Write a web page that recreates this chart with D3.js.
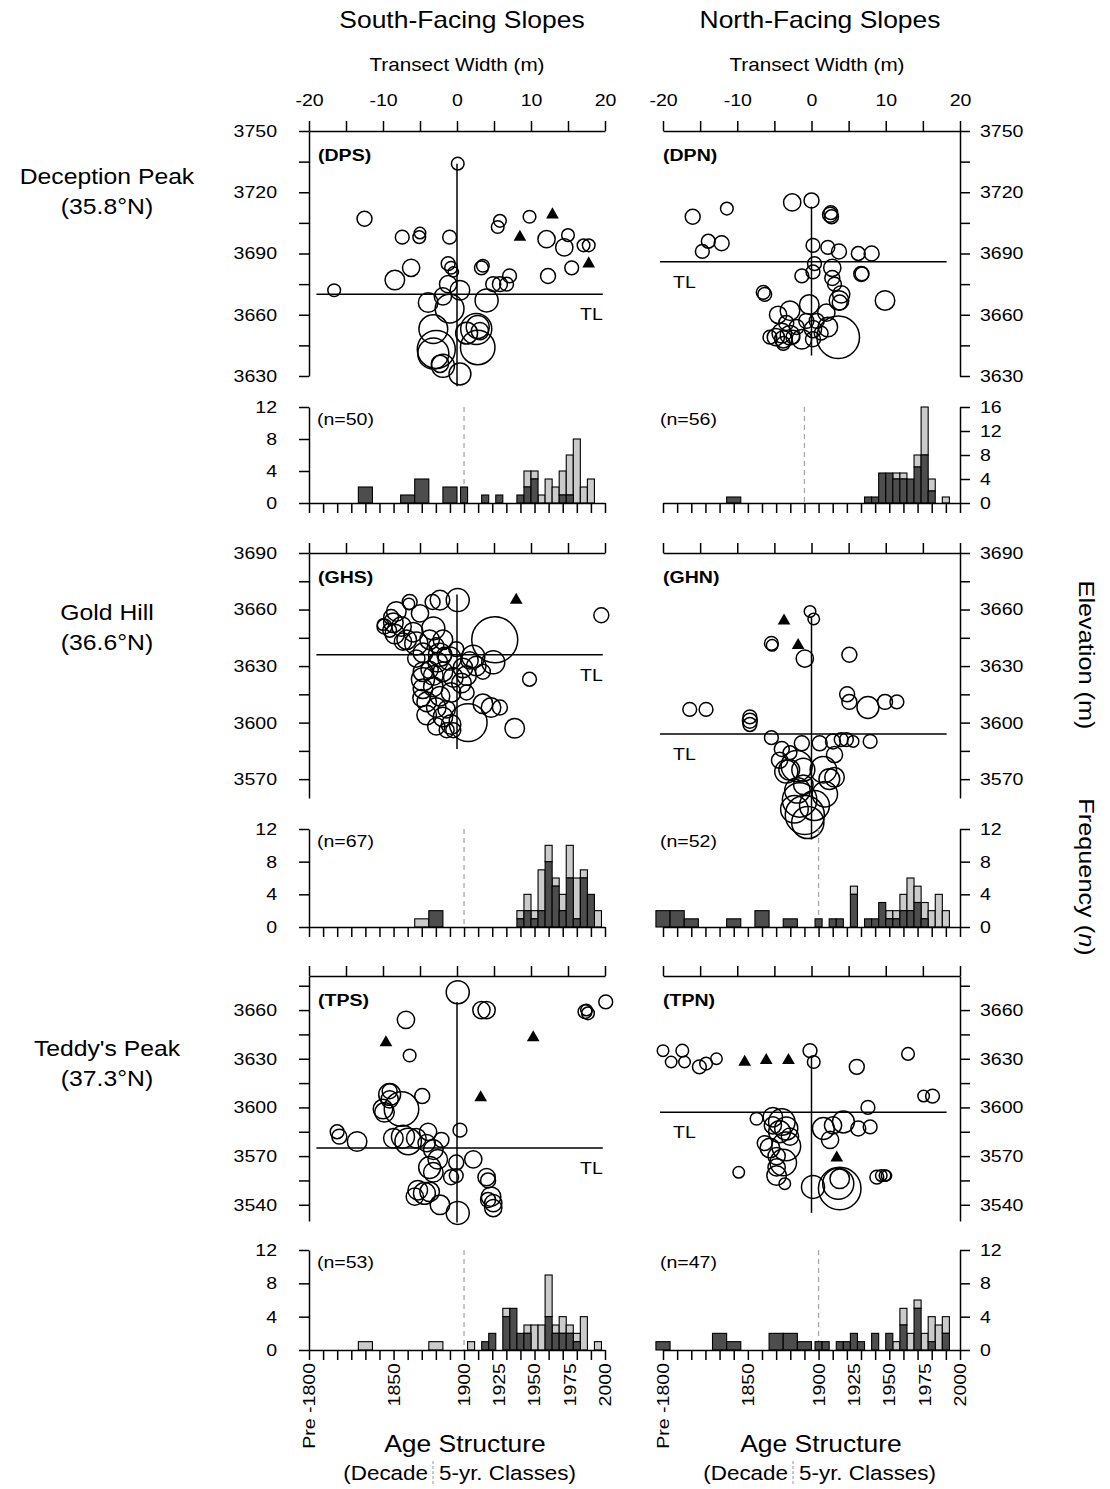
<!DOCTYPE html>
<html>
<head>
<meta charset="utf-8">
<script src="https://cdn.jsdelivr.net/npm/d3@7"></script>
<style>
body { margin: 0; background: #fff; }
svg text { font-family: Arial, "Liberation Sans", sans-serif; fill: #000; }
</style>
</head>
<body>
<div id="chart"></div>
<script>
// ---------------- data ----------------
// trees: [transect position (m), elevation (m), dbh (cm)]; seedlings are the triangles
const dpsTrees = [[0.1,3734,11],[-12.5,3707,13],[-7.4,3698,12],[-5.1,3698,11],[-5.0,3700,10],[-1.0,3698,12],[-6.2,3683,15],[-8.4,3677,17],[-16.6,3672,11],[-1.2,3685,12],[-0.8,3683,11],[-0.5,3681,9],[3.3,3683,12],[3.5,3684,11],[5.8,3706,11],[5.5,3703,11],[9.8,3708,11],[7.1,3679,12],[6.7,3675,12],[5.8,3675,13],[4.9,3675,13],[12.1,3697,15],[14.5,3693,15],[15.0,3699,11],[17.1,3694,11],[17.8,3694,11],[12.3,3679,13],[15.5,3683,12],[-1.2,3675,15],[0.4,3672,17],[-3.9,3666,17],[-1.0,3663,25],[-1.9,3669,15],[4.0,3667,20],[-3.2,3653,25],[2.6,3653,27],[2.8,3654,20],[3.1,3652,15],[-2.8,3643,33],[-3.2,3641,27],[2.8,3644,30],[-1.9,3635,20],[-2.3,3636,15],[0.4,3631,19],[1.3,3651,19]];
const dpsSeedlings = [[8.5,3698],[12.9,3709],[17.8,3685]];

const dpnTrees = [[-16.0,3708,13],[-11.4,3712,11],[-13.9,3696,12],[-14.7,3691,12],[-12.1,3695,13],[-2.6,3715,15],[0,3716,13],[2.5,3709,13],[2.6,3710,12],[2.7,3708,12],[0.2,3694,12],[2.2,3693,12],[3.7,3691,13],[6.3,3690,12],[8.1,3690,13],[0.4,3685,12],[2.8,3683,15],[-1.3,3679,12],[0.2,3681,12],[2.8,3678,13],[6.7,3680,13],[6.8,3680,12],[-6.5,3671,12],[-6.3,3670,12],[3.1,3675,12],[4.0,3670,15],[3.8,3666,13],[3.7,3667,17],[9.9,3667,17],[-0.3,3665,17],[-2.9,3662,17],[-4.5,3660,15],[2.0,3661,15],[-4.0,3651,17],[-4.8,3649,15],[-3.8,3648,15],[-2.9,3650,17],[-2.0,3654,13],[-1.3,3648,17],[0.2,3653,15],[0.2,3648,13],[-0.7,3657,13],[0.7,3657,13],[2.2,3654,17],[3.6,3649,37],[-3.4,3656,13],[-5.6,3649,12],[-2.5,3649,12],[1.3,3651,12],[-3.8,3646,12]];
const dpnSeedlings = [];

const ghsTrees = [[0.1,3665,20],[-2.3,3665,17],[-3.3,3664,13],[-6.4,3664,13],[-6.5,3663,10],[-5.0,3658,15],[-8.2,3659,17],[-8.9,3656,13],[-9.8,3651,13],[-8.6,3653,17],[-7.5,3651,17],[-8.4,3647,17],[-6.8,3644,17],[-5.5,3642,20],[-3.2,3650,20],[-3.7,3644,17],[5.1,3644,40],[19.5,3657,13],[-4.6,3637,17],[-2.3,3636,20],[-1.0,3634,20],[-2.6,3632,17],[2.2,3635,20],[2.6,3630,17],[4.9,3632,20],[0.8,3629,17],[9.8,3623,12],[-4.6,3627,17],[-4.6,3623,20],[-3.2,3625,17],[-1.9,3627,17],[-0.5,3624,17],[1.3,3625,17],[3.5,3627,13],[-4.6,3618,17],[-3.2,3619,17],[-2.3,3614,17],[-0.8,3616,17],[1.3,3616,13],[-4.1,3611,17],[-2.8,3608,17],[3.5,3610,17],[4.6,3608,17],[5.8,3608,13],[-4.1,3604,17],[-1.9,3603,17],[-0.8,3599,17],[-0.5,3596,13],[-1.4,3596,13],[1.5,3600,33],[7.8,3597,17],[-5.5,3634,15],[-5.9,3648,17],[-2.8,3641,13],[-1.7,3636,13],[-0.1,3639,13],[1.7,3633,15],[0.6,3621,17],[-4.8,3613,15],[-3.7,3628,15],[-1.4,3607,15],[-2.8,3598,15],[-10.0,3652,10],[-9.1,3649,12],[-7.3,3643,15],[-1.9,3644,17]];
const ghsSeedlings = [[8.0,3665]];

const ghnTrees = [[-0.2,3659,10],[0.3,3655,10],[-0.9,3634,15],[-5.3,3641,10],[-5.4,3642,12],[5.1,3636,13],[-16.4,3607,12],[-14.2,3607,12],[-8.3,3601,13],[-8.3,3603,12],[-8.3,3599,12],[4.8,3615,13],[5.1,3611,13],[7.6,3608,19],[9.9,3611,13],[11.5,3611,12],[7.9,3590,12],[-5.4,3592,12],[-4.0,3586,13],[-1.3,3589,13],[1.1,3589,13],[2.9,3590,13],[4.0,3591,12],[4.7,3591,12],[5.6,3590,10],[-2.9,3584,12],[-2.0,3577,27],[-1.1,3575,20],[1.6,3575,23],[3.1,3571,17],[-3.4,3574,20],[-1.1,3567,17],[-1.6,3559,30],[-2.3,3554,24],[-0.9,3551,34],[0.4,3556,26],[-1.9,3564,22],[1.8,3562,22],[-0.5,3547,28],[-3.0,3575,18],[2.4,3570,18],[-4.3,3580,14],[3.1,3583,14]];
const ghnSeedlings = [[-3.7,3654],[-1.8,3641]];

const tpsTrees = [[0.1,3671,20],[3.3,3660,15],[4.0,3660,15],[-6.9,3654,15],[-6.4,3632,11],[17.3,3659,12],[17.7,3658,11],[17.5,3660,10],[20.1,3665,12],[-4.7,3607,13],[-9.1,3608,19],[-7.5,3599,30],[-10.0,3599,17],[-9.8,3597,17],[-9.1,3605,15],[-16.2,3585,12],[-15.9,3582,13],[-13.5,3579,17],[-8.6,3581,17],[-7.3,3582,20],[-6.6,3579,23],[-5.5,3581,17],[-3.9,3585,15],[-2.1,3580,13],[0.4,3586,12],[-3.2,3574,17],[-2.6,3568,17],[-0.1,3566,13],[2.2,3568,15],[-3.7,3563,19],[-3.2,3560,17],[-0.8,3557,13],[-0.1,3558,12],[4.0,3557,15],[4.2,3555,13],[-5.3,3549,17],[-4.4,3547,19],[-3.7,3548,17],[-5.7,3545,15],[-2.3,3540,17],[0.1,3535,20],[4.6,3545,17],[4.9,3541,15],[4.9,3538,15],[4.2,3543,13],[-9.1,3610,13],[-4.1,3578,15]];
const tpsSeedlings = [[-9.6,3640],[3.2,3606],[10.3,3643]];

const tpnTrees = [[-20.0,3635,10],[-18.9,3628,10],[-17.4,3635,11],[-17.1,3628,10],[-15.1,3625,12],[-14.2,3627,11],[-12.8,3630,10],[-0.2,3635,12],[0.3,3628,11],[6.1,3625,13],[13.0,3633,11],[15.1,3607,10],[16.3,3607,12],[7.6,3600,12],[-7.4,3593,11],[-5.2,3594,17],[-4.0,3591,23],[-3.4,3587,20],[-4.3,3585,19],[-5.2,3589,15],[1.6,3587,19],[2.9,3589,15],[4.3,3591,19],[2.5,3580,15],[6.3,3587,13],[7.9,3588,12],[-3.4,3576,25],[-5.6,3575,17],[-4.7,3570,15],[-3.8,3566,23],[-4.7,3563,15],[-4.7,3558,17],[-3.6,3553,10],[-9.8,3560,10],[0.2,3551,20],[3.6,3553,27],[3.8,3550,37],[3.8,3556,17],[8.8,3557,12],[9.4,3558,10],[9.9,3558,10],[10.1,3558,9],[-6.3,3578,13],[-2.9,3582,15]];
const tpnSeedlings = [[-9.0,3628],[-6.1,3629],[-3.1,3629],[3.4,3569]];

// panel order: DPS, DPN, GHS, GHN, TPS, TPN
const panelCodes = ["DPS", "DPN", "GHS", "GHN", "TPS", "TPN"];
const treelineElev = [3670, 3686, 3636, 3594, 3575, 3597];
const centerTop = [3734, 3713, 3668, 3656, 3665, 3631];
const centerBottom = [3625, 3640, 3586, 3538, 3529, 3535];
const sampleN = [50, 56, 67, 52, 53, 47];
const elevDomains = [[3630, 3750], [3560, 3690], [3530, 3681]];
const tlSpanS = [-19, 19.7];
const tlSpanN = [-20.4, 18.2];

// age structure: class centre (decades before 1900, 5-yr classes after), counts
const dpsYears = [1830,1860,1870,1890,1900,1915,1925,1940,1945,1950,1955,1960,1965,1970,1975,1980,1985,1990];
const dpsDark  = [2,1,3,2,2,1,1,1,2,3,0,0,0,1,1,0,0,0];
const dpsLight = [0,0,0,0,0,0,0,0,2,1,1,3,2,3,5,8,2,3];

const dpnYears = [1850,1945,1950,1955,1960,1965,1970,1975,1980,1985,1990,2000];
const dpnDark  = [1,1,1,5,5,4,4,4,6,8,2,0];
const dpnLight = [0,0,0,0,0,1,1,0,2,8,2,1];

const ghsYears = [1870,1880,1940,1945,1950,1955,1960,1965,1970,1975,1980,1985,1990,1995];
const ghsDark  = [0,2,1,2,1,2,8,5,2,6,1,6,4,0];
const ghsLight = [1,0,1,2,1,5,2,1,2,4,5,1,0,2];

const ghnYears = [1790,1800,1810,1840,1860,1880,1900,1910,1915,1925,1935,1940,1945,1950,1955,1960,1965,1970,1975,1980,1985,1990];
const ghnDark  = [2,2,1,1,2,1,1,1,1,4,1,1,3,1,1,2,2,3,1,0,0,0];
const ghnLight = [0,0,0,0,0,0,0,0,0,1,0,0,0,1,1,2,4,2,2,2,4,2];

const tpsYears = [1830,1880,1905,1915,1920,1930,1935,1940,1945,1950,1955,1960,1965,1970,1975,1980,1985,1995];
const tpsDark  = [0,0,0,1,2,4,5,2,2,0,0,4,2,2,2,1,0,0];
const tpsLight = [1,1,1,0,0,1,0,0,1,3,3,5,1,2,1,1,4,1];

const tpnYears = [1790,1830,1840,1870,1880,1890,1900,1905,1915,1920,1925,1930,1940,1950,1955,1960,1965,1970,1975,1980,1985,1990];
const tpnDark  = [1,2,1,2,2,1,1,1,1,1,2,1,2,2,0,3,0,5,0,1,0,2];
const tpnLight = [0,0,0,0,0,0,0,0,0,0,0,0,0,0,1,2,2,1,2,3,3,2];

const yearLabels = [1790, 1850, 1900, 1925, 1950, 1975, 2000];
const xTicks = d3.range(-20, 21, 5);

// ---------------- layout ----------------
const W = 1110, H = 1489;
const SX = 1.15; // the figure's lettering is a little wide
const colS = { left: 309, right: 605, side: "S" };
const colN = { left: 663, right: 960, side: "N" };
const rows = [
  { scTop: 131, scBot: 376, hTop: 407, hBot: 503 },
  { scTop: 553, scBot: 798, hTop: 829, hBot: 927 },
  { scTop: 976, scBot: 1221, hTop: 1250, hBot: 1350 }
];

const svg = d3.select("#chart").append("svg")
  .attr("width", W)
  .attr("height", H);

function label(g, x, y, str, size, opts = {}) {
  const t = g.append("text")
    .attr("transform", `translate(${x},${y})` + (opts.rotate ? ` rotate(${opts.rotate})` : "") + ` scale(${SX},1)`)
    .attr("text-anchor", opts.anchor || "start")
    .style("font-size", size + "px");
  if (opts.bold) t.style("font-weight", "bold");
  if (opts.dy) t.attr("dy", opts.dy);
  if (str !== null) t.text(str);
  return t;
}

function styleAxis(g) {
  g.attr("font-family", null).attr("font-size", null);
  g.select(".domain").attr("stroke-width", 1.5);
  g.selectAll(".tick line").attr("stroke-width", 1.5);
  g.selectAll(".tick text")
    .style("font-size", "17px")
    .attr("transform", function () {
      const x = +this.getAttribute("x") || 0;
      return `translate(${x},0) scale(${SX},1) translate(${-x},0)`;
    });
}

function drawScatter(i, col, row, domain, trees, seedlings, showLabels) {
  const south = col.side === "S";
  const x = d3.scaleLinear().domain([-20, 20]).range([col.left, col.right]);
  const y = d3.scaleLinear().domain(domain).range([row.scBot, row.scTop]);
  const r = d3.scaleLinear().domain([0, 40]).range([0, 23]);
  const g = svg.append("g");

  g.append("g")
    .attr("transform", `translate(0,${row.scTop})`)
    .call(d3.axisTop(x).tickValues(xTicks).tickSize(10).tickSizeOuter(0).tickPadding(15)
      .tickFormat(d => showLabels && d % 10 === 0 ? d : ""))
    .call(styleAxis);

  const yt = d3.range(Math.ceil(domain[0] / 15) * 15, domain[1] + 0.01, 15);
  g.append("g")
    .attr("transform", `translate(${south ? col.left : col.right},0)`)
    .call((south ? d3.axisLeft(y) : d3.axisRight(y)).tickValues(yt).tickSize(10).tickSizeOuter(0)
      .tickPadding(south ? 22 : 10).tickFormat(d => d % 30 === 0 ? d : ""))
    .call(styleAxis);

  // transect centre line and treeline
  g.append("line")
    .attr("x1", x(0)).attr("x2", x(0))
    .attr("y1", y(centerTop[i])).attr("y2", y(centerBottom[i]))
    .attr("stroke", "#000").attr("stroke-width", 1.5);
  const span = south ? tlSpanS : tlSpanN;
  g.append("line")
    .attr("x1", x(span[0])).attr("x2", x(span[1]))
    .attr("y1", y(treelineElev[i])).attr("y2", y(treelineElev[i]))
    .attr("stroke", "#000").attr("stroke-width", 1.5);
  if (south) label(g, x(span[1]), y(treelineElev[i]) + 26, "TL", 17, { anchor: "end" });
  else label(g, col.left + 10, y(treelineElev[i]) + 26, "TL", 17);

  g.selectAll("circle").data(trees).join("circle")
    .attr("cx", d => x(d[0]))
    .attr("cy", d => y(d[1]))
    .attr("r", d => r(d[2]))
    .attr("fill", "none")
    .attr("stroke", "#000")
    .attr("stroke-width", 1.5);

  g.selectAll("path.seedling").data(seedlings).join("path")
    .attr("class", "seedling")
    .attr("transform", d => `translate(${x(d[0])},${y(d[1])})`)
    .attr("d", d3.symbol(d3.symbolTriangle).size(70))
    .attr("fill", "#000");

  label(g, south ? col.left + 9 : col.left, row.scTop + 30, `(${panelCodes[i]})`, 17, { bold: true });
}

function drawHist(i, col, row, xDomain, yMax, years, dark, light, showYears) {
  const south = col.side === "S";
  const x = d3.scaleLinear().domain(xDomain).range([col.left, col.right]);
  const y = d3.scaleLinear().domain([0, yMax]).range([row.hBot, row.hTop]);
  const g = svg.append("g");
  const bins = years.map((yr, k) => ({ yr, w: yr < 1900 ? 10 : 5, dark: dark[k], light: light[k] }));

  // 1900 divider between decade and 5-yr classes
  g.append("line")
    .attr("x1", x(1900)).attr("x2", x(1900))
    .attr("y1", y(yMax)).attr("y2", y(0))
    .attr("stroke", "#a8a8a8").attr("stroke-width", 1.3).attr("stroke-dasharray", "5,4");

  g.selectAll("rect.light").data(bins.filter(b => b.light > 0)).join("rect")
    .attr("class", "light")
    .attr("x", b => x(b.yr - b.w / 2))
    .attr("width", b => x(b.yr + b.w / 2) - x(b.yr - b.w / 2))
    .attr("y", b => y(b.dark + b.light))
    .attr("height", b => y(b.dark) - y(b.dark + b.light))
    .attr("fill", "#cbcbcb").attr("stroke", "#000").attr("stroke-width", 1.1);

  g.selectAll("rect.dark").data(bins.filter(b => b.dark > 0)).join("rect")
    .attr("class", "dark")
    .attr("x", b => x(b.yr - b.w / 2))
    .attr("width", b => x(b.yr + b.w / 2) - x(b.yr - b.w / 2))
    .attr("y", b => y(b.dark))
    .attr("height", b => y(0) - y(b.dark))
    .attr("fill", "#4d4d4d").attr("stroke", "#000").attr("stroke-width", 1.1);

  g.append("g")
    .attr("transform", `translate(0,${row.hBot})`)
    .call(d3.axisBottom(x).tickValues(d3.range(xDomain[0], xDomain[1] + 1, 10))
      .tickSize(10).tickSizeOuter(0).tickFormat(""))
    .call(styleAxis);

  g.append("g")
    .attr("transform", `translate(${south ? col.left : col.right},0)`)
    .call((south ? d3.axisLeft(y) : d3.axisRight(y)).tickValues(d3.range(0, yMax + 1, 4))
      .tickSize(10).tickSizeOuter(0).tickPadding(south ? 22 : 10))
    .call(styleAxis);

  label(g, south ? col.left + 8 : col.left - 3, row.hTop + 18, `(n=${sampleN[i]})`, 17);

  if (showYears) {
    yearLabels.forEach(v => {
      label(g, x(v), row.hBot + 13, v === 1790 ? "Pre -1800" : String(v), 17,
        { rotate: -90, anchor: "end", dy: "0.35em" });
    });
  }
}

// ---------------- panels ----------------
const allTrees = [dpsTrees, dpnTrees, ghsTrees, ghnTrees, tpsTrees, tpnTrees];
const allSeedlings = [dpsSeedlings, dpnSeedlings, ghsSeedlings, ghnSeedlings, tpsSeedlings, tpnSeedlings];
const allYears = [dpsYears, dpnYears, ghsYears, ghnYears, tpsYears, tpnYears];
const allDark = [dpsDark, dpnDark, ghsDark, ghnDark, tpsDark, tpnDark];
const allLight = [dpsLight, dpnLight, ghsLight, ghnLight, tpsLight, tpnLight];

for (let i = 0; i < 6; i++) {
  const row = rows[Math.floor(i / 2)];
  const col = i % 2 === 0 ? colS : colN;
  drawScatter(i, col, row, elevDomains[Math.floor(i / 2)], allTrees[i], allSeedlings[i], i < 2);
  const xDomain = i === 1 ? [1800, 2010] : [1790, 2000];
  drawHist(i, col, row, xDomain, i === 1 ? 16 : 12, allYears[i], allDark[i], allLight[i], i >= 4);
}

// ---------------- titles and labels ----------------
const t = svg.append("g");
label(t, 462, 28, "South-Facing Slopes", 23, { anchor: "middle" });
label(t, 820, 28, "North-Facing Slopes", 23, { anchor: "middle" });
label(t, 457, 71, "Transect Width (m)", 18, { anchor: "middle" });
label(t, 817, 71, "Transect Width (m)", 18, { anchor: "middle" });

const siteNames = ["Deception Peak", "Gold Hill", "Teddy's Peak"];
const siteLats = ["(35.8°N)", "(36.6°N)", "(37.3°N)"];
const siteY = [184, 620, 1056];
siteNames.forEach((s, k) => {
  label(t, 107, siteY[k], s, 21.5, { anchor: "middle" });
  label(t, 107, siteY[k] + 30, siteLats[k], 21.5, { anchor: "middle" });
});

label(t, 1079, 655, "Elevation (m)", 22, { anchor: "middle", rotate: 90 });
const fq = label(t, 1079, 877, null, 22, { anchor: "middle", rotate: 90 });
fq.append("tspan").text("Frequency (");
fq.append("tspan").style("font-style", "italic").text("n");
fq.append("tspan").text(")");

[[465, 433], [821, 793]].forEach(([cx, sep]) => {
  label(t, cx, 1452, "Age Structure", 23, { anchor: "middle" });
  label(t, sep - 5, 1480, "(Decade", 19.5, { anchor: "end" });
  label(t, sep + 6, 1480, "5-yr. Classes)", 19.5);
  t.append("line")
    .attr("x1", sep).attr("x2", sep)
    .attr("y1", 1461).attr("y2", 1486)
    .attr("stroke", "#a8a8a8").attr("stroke-width", 1.2).attr("stroke-dasharray", "3,2");
});
</script>
</body>
</html>
